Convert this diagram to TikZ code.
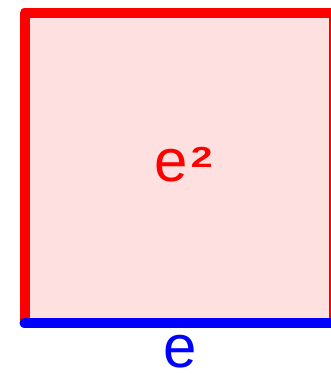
\documentclass[tikz,border=0pt]{standalone}
\usepackage{fontspec}
\setmainfont{Liberation Sans}
\definecolor{side}{HTML}{FF0000}
\definecolor{base}{HTML}{0000FF}
\definecolor{area}{HTML}{FFE0E0}
\newcommand{\sqsup}[1]{\hspace{3pt}\raisebox{14pt}{\scalebox{1.35}[1]{\fontsize{29}{29}\selectfont\bfseries #1}}}
\begin{document}
\begin{tikzpicture}[x=1pt,y=1pt,
  edge/.style={line width=10pt,line cap=round,line join=round},
  lbl/.style={inner sep=0pt,anchor=base,font=\fontsize{60}{72}\selectfont}]
  \useasboundingbox (0,0) rectangle (331,375);
  \begin{scope}
    \clip (0,0) rectangle (331,375);
    % ===== square =====
    \fill[area] (24.5,52) rectangle (334,362);
    \draw[edge,side] (24.5,52) -- (24.5,362) -- (334,362) -- (334,52);
    \draw[edge,base] (24.5,52) -- (334,52);
  \end{scope}
  % ===== labels =====
  \node[lbl,text=side] (areatxt) at (183.5,193) {e\sqsup{2}};
  \node[lbl,text=base] (sidetxt) at (180,7) {e};
\end{tikzpicture}
\end{document}
